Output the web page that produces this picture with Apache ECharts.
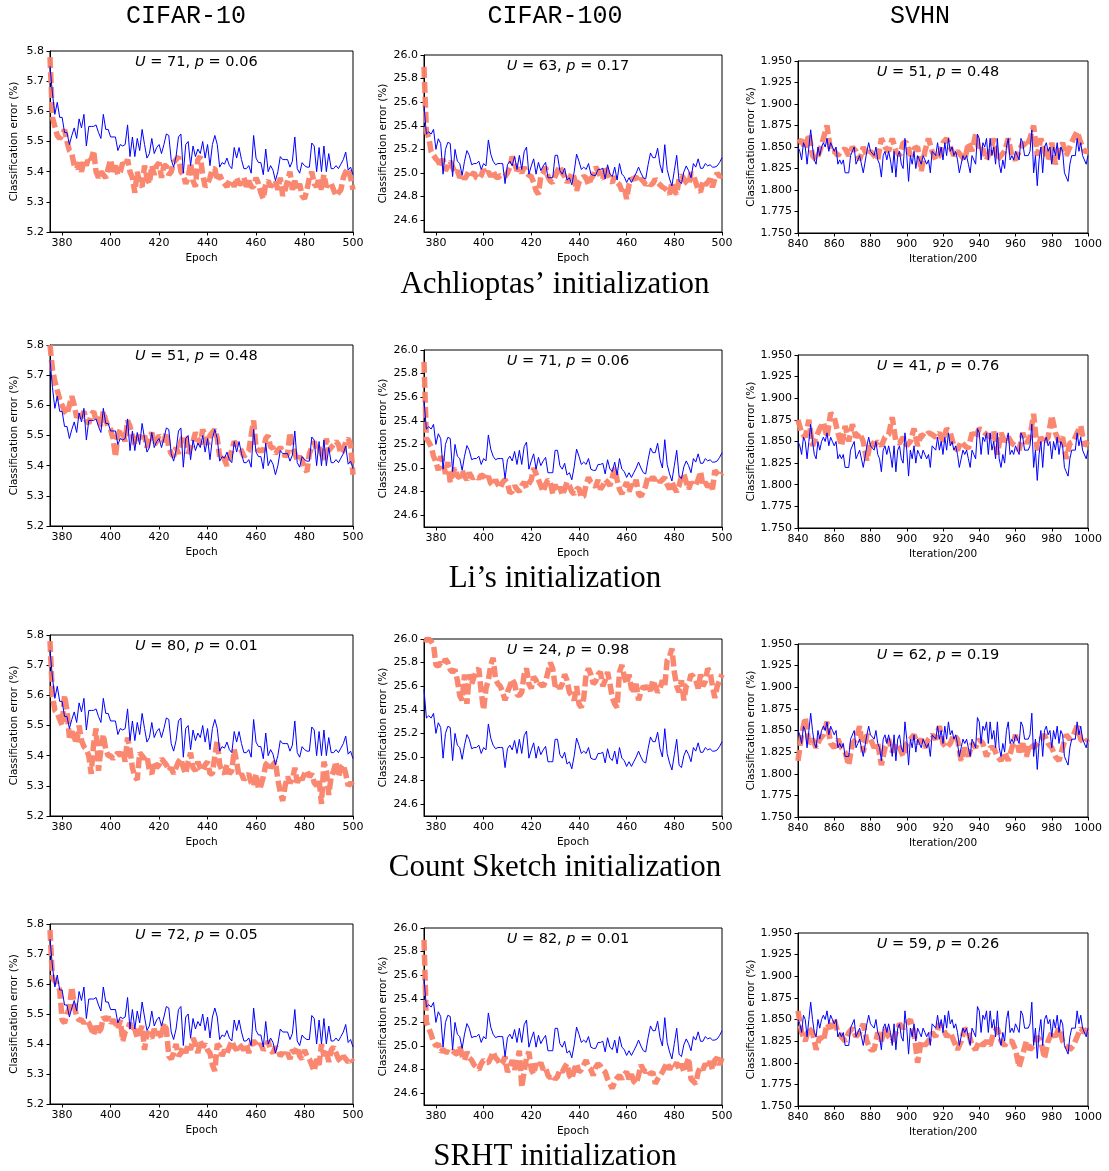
<!DOCTYPE html>
<html>
<head>
<meta charset="utf-8">
<script src="https://cdn.jsdelivr.net/npm/echarts@6/dist/echarts.min.js"></script>
<style>
html,body{margin:0;padding:0;background:#fff;}
#main{width:1109px;height:1171px;}
</style>
</head>
<body>
<div id="main"></div>
<script>
// ---------------- DATA ----------------
const columnTitles = ['CIFAR-10', 'CIFAR-100', 'SVHN'];
const rowTitles = ['Achlioptas\u2019 initialization', 'Li\u2019s initialization', 'Count Sketch initialization', 'SRHT initialization'];
const stats = [
  [['71', '0.06'], ['63', '0.17'], ['51', '0.48']],
  [['51', '0.48'], ['71', '0.06'], ['41', '0.76']],
  [['80', '0.01'], ['24', '0.98'], ['62', '0.19']],
  [['72', '0.05'], ['82', '0.01'], ['59', '0.26']]
];
const epochStart = 375;      // CIFAR series: one value per epoch 375..500
const iterStart = 840;       // SVHN baseline: one value per unit 840..1000, SVHN orange: every 2 units
const cifarXTicks = [380, 400, 420, 440, 460, 480, 500];
const c10YTicks = [5.2, 5.3, 5.4, 5.5, 5.6, 5.7, 5.8];
const c100YTicks = [24.6, 24.8, 25.0, 25.2, 25.4, 25.6, 25.8, 26.0];
const svhnXTicks = [840, 860, 880, 900, 920, 940, 960, 980, 1000];
const svhnYTicks = [1.750, 1.775, 1.800, 1.825, 1.850, 1.875, 1.900, 1.925, 1.950];

// baseline (blue) curves, shared by every row
const c10Base = [
5.75,5.66,5.59,5.63,5.58,5.58,5.53,5.53,5.49,5.52,
5.545,5.51,5.575,5.545,5.59,5.485,5.55,5.55,5.55,5.555,
5.53,5.51,5.59,5.54,5.54,5.515,5.515,5.515,5.47,5.49,
5.485,5.49,5.555,5.45,5.515,5.45,5.51,5.47,5.54,5.49,
5.445,5.46,5.51,5.46,5.48,5.49,5.46,5.49,5.525,5.52,
5.44,5.415,5.45,5.515,5.525,5.395,5.49,5.50,5.42,5.485,
5.45,5.475,5.46,5.50,5.445,5.49,5.42,5.49,5.52,5.49,
5.415,5.43,5.425,5.445,5.42,5.41,5.48,5.445,5.48,5.44,
5.41,5.41,5.42,5.395,5.52,5.445,5.43,5.43,5.39,5.475,
5.40,5.42,5.405,5.37,5.40,5.45,5.44,5.44,5.44,5.415,
5.435,5.515,5.41,5.395,5.43,5.42,5.415,5.415,5.495,5.485,
5.40,5.48,5.40,5.485,5.40,5.46,5.41,5.41,5.42,5.41,
5.425,5.44,5.465,5.405,5.415,5.39];
const c100Base = [
25.57,25.33,25.35,25.33,25.37,25.20,25.29,25.25,24.99,25.20,
25.26,25.25,24.97,25.20,25.10,25.08,24.98,25.10,25.19,25.15,
25.07,25.08,25.08,25.10,25.03,25.08,25.06,25.28,25.16,25.10,
25.07,25.08,25.08,25.08,24.91,25.07,25.10,25.06,25.14,25.03,
25.15,25.03,25.18,25.22,24.99,25.06,25.12,24.99,25.09,25.02,
25.06,25.09,24.96,24.96,24.96,25.15,25.15,25.02,24.99,25.04,
24.94,24.96,24.90,25.01,25.16,25.10,25.03,25.05,25.03,25.08,
24.99,24.98,24.98,25.03,25.03,25.04,24.95,25.07,24.99,24.97,
25.05,24.94,25.08,24.99,24.97,24.92,24.96,24.92,24.96,25.00,
25.05,25.00,24.96,24.95,25.07,25.17,25.13,25.13,25.21,25.07,
25.00,25.24,25.03,24.95,24.89,25.02,25.15,24.93,24.91,25.01,
25.06,25.02,24.96,25.08,25.05,25.12,25.04,25.04,25.08,25.06,
25.07,25.05,25.05,25.06,25.09,25.13];
const svhnBase = [
1.850,1.845,1.835,1.855,1.850,1.830,1.850,1.870,1.850,1.835,
1.830,1.850,1.840,1.850,1.855,1.850,1.860,1.845,1.855,1.850,
1.845,1.850,1.830,1.835,1.830,1.835,1.820,1.820,1.820,1.840,
1.840,1.850,1.830,1.835,1.840,1.840,1.820,1.820,1.845,1.855,
1.845,1.845,1.840,1.850,1.835,1.830,1.815,1.840,1.845,1.835,
1.845,1.835,1.820,1.845,1.815,1.840,1.845,1.830,1.825,1.860,
1.840,1.810,1.840,1.830,1.845,1.825,1.840,1.835,1.830,1.840,
1.835,1.830,1.835,1.820,1.845,1.845,1.840,1.855,1.840,1.850,
1.835,1.855,1.840,1.860,1.845,1.850,1.840,1.845,1.835,1.820,
1.830,1.840,1.835,1.840,1.830,1.820,1.840,1.835,1.830,1.865,
1.860,1.835,1.855,1.850,1.860,1.835,1.860,1.840,1.850,1.830,
1.860,1.830,1.820,1.835,1.825,1.850,1.860,1.835,1.840,1.835,
1.845,1.840,1.835,1.860,1.855,1.840,1.840,1.840,1.845,1.870,
1.820,1.840,1.805,1.835,1.850,1.820,1.850,1.855,1.845,1.850,
1.830,1.850,1.840,1.855,1.835,1.850,1.845,1.820,1.815,1.810,
1.830,1.840,1.840,1.840,1.860,1.845,1.855,1.840,1.840,1.830,
1.840];

// projection-initialised (orange) curves
const c10Achlioptas = [
5.78,5.58,5.55,5.52,5.51,5.52,5.54,5.50,5.47,5.46,
5.42,5.41,5.43,5.40,5.44,5.42,5.45,5.44,5.47,5.40,
5.38,5.40,5.39,5.38,5.41,5.44,5.40,5.42,5.39,5.40,
5.43,5.42,5.44,5.40,5.38,5.33,5.40,5.36,5.35,5.42,
5.38,5.36,5.42,5.39,5.42,5.43,5.38,5.42,5.42,5.39,
5.40,5.43,5.44,5.45,5.40,5.39,5.36,5.38,5.43,5.37,
5.35,5.44,5.45,5.39,5.35,5.36,5.38,5.41,5.41,5.37,
5.39,5.37,5.36,5.35,5.37,5.37,5.35,5.38,5.36,5.36,
5.38,5.35,5.37,5.35,5.35,5.38,5.36,5.33,5.31,5.36,
5.37,5.35,5.36,5.37,5.34,5.38,5.32,5.34,5.37,5.40,
5.34,5.37,5.34,5.36,5.32,5.31,5.34,5.38,5.40,5.36,
5.35,5.38,5.34,5.39,5.35,5.36,5.36,5.34,5.32,5.33,
5.34,5.38,5.40,5.41,5.38,5.34];
const c10Li = [
5.80,5.72,5.68,5.65,5.62,5.60,5.58,5.57,5.60,5.63,
5.60,5.56,5.57,5.56,5.58,5.55,5.54,5.57,5.58,5.55,
5.56,5.53,5.58,5.55,5.53,5.52,5.49,5.43,5.50,5.52,
5.51,5.48,5.55,5.53,5.50,5.47,5.49,5.50,5.48,5.50,
5.46,5.49,5.51,5.47,5.48,5.50,5.49,5.48,5.51,5.46,
5.44,5.43,5.46,5.44,5.48,5.50,5.49,5.44,5.46,5.48,
5.51,5.49,5.47,5.52,5.50,5.47,5.50,5.51,5.52,5.49,
5.43,5.44,5.42,5.40,5.43,5.45,5.48,5.47,5.46,5.45,
5.43,5.44,5.45,5.50,5.55,5.46,5.45,5.45,5.45,5.49,
5.50,5.46,5.46,5.44,5.45,5.46,5.45,5.43,5.44,5.51,
5.46,5.44,5.42,5.43,5.42,5.39,5.38,5.44,5.46,5.48,
5.45,5.46,5.44,5.42,5.49,5.45,5.46,5.47,5.48,5.47,
5.44,5.45,5.48,5.49,5.47,5.37];
const c10CountSketch = [
5.78,5.60,5.55,5.54,5.52,5.50,5.60,5.55,5.46,5.48,
5.46,5.44,5.50,5.45,5.43,5.42,5.40,5.34,5.44,5.49,
5.35,5.42,5.47,5.42,5.40,5.40,5.39,5.40,5.41,5.40,
5.42,5.38,5.46,5.42,5.36,5.33,5.32,5.41,5.40,5.39,
5.40,5.35,5.34,5.38,5.36,5.37,5.39,5.38,5.37,5.35,
5.36,5.34,5.36,5.38,5.39,5.36,5.34,5.38,5.41,5.36,
5.35,5.38,5.36,5.35,5.37,5.38,5.34,5.34,5.40,5.45,
5.37,5.35,5.34,5.37,5.34,5.35,5.42,5.38,5.33,5.34,
5.32,5.33,5.34,5.31,5.30,5.34,5.29,5.30,5.33,5.37,
5.38,5.36,5.37,5.38,5.32,5.28,5.25,5.30,5.33,5.31,
5.32,5.36,5.31,5.33,5.32,5.34,5.35,5.33,5.34,5.31,
5.30,5.32,5.24,5.38,5.35,5.27,5.33,5.35,5.38,5.33,
5.36,5.37,5.34,5.30,5.31,5.30];
const c10SRHT = [
5.78,5.62,5.61,5.60,5.58,5.48,5.47,5.50,5.52,5.59,
5.53,5.49,5.48,5.48,5.47,5.48,5.47,5.45,5.43,5.46,
5.44,5.45,5.49,5.48,5.49,5.47,5.48,5.47,5.45,5.48,
5.41,5.44,5.45,5.47,5.44,5.45,5.42,5.44,5.46,5.38,
5.44,5.43,5.42,5.45,5.43,5.44,5.42,5.47,5.45,5.36,
5.35,5.37,5.40,5.36,5.37,5.39,5.37,5.40,5.38,5.42,
5.40,5.37,5.41,5.39,5.40,5.38,5.37,5.33,5.31,5.40,
5.39,5.36,5.38,5.37,5.39,5.41,5.39,5.38,5.40,5.39,
5.38,5.40,5.37,5.40,5.41,5.40,5.39,5.40,5.38,5.39,
5.41,5.38,5.37,5.39,5.38,5.36,5.37,5.36,5.37,5.35,
5.38,5.37,5.39,5.36,5.35,5.38,5.36,5.35,5.33,5.31,
5.35,5.33,5.40,5.36,5.38,5.34,5.38,5.39,5.37,5.35,
5.34,5.36,5.35,5.34,5.35,5.34];

const c100Achlioptas = [
25.90,25.35,25.30,25.18,25.15,25.12,25.10,25.05,25.12,25.02,
25.06,25.10,25.05,25.00,25.02,24.96,24.99,24.95,24.98,25.02,
24.99,25.00,24.96,24.95,24.98,25.03,24.99,25.01,24.97,25.02,
24.97,24.96,24.98,24.97,24.97,25.00,25.05,25.14,25.08,25.02,
25.04,25.00,25.05,25.00,24.98,24.97,24.92,24.85,24.82,24.97,
25.00,25.05,24.97,24.93,24.92,24.97,25.02,25.06,25.00,24.97,
24.92,24.95,25.00,24.96,24.85,24.92,24.95,24.97,24.96,24.90,
24.95,24.98,25.05,25.02,24.97,24.95,25.06,25.00,24.94,24.92,
24.97,24.92,24.90,24.85,24.88,24.78,24.90,24.95,24.95,24.97,
24.92,24.95,24.93,24.90,24.92,24.90,24.91,24.95,24.92,24.90,
24.88,24.87,24.85,24.82,24.92,24.85,24.82,24.95,24.98,24.95,
24.92,24.90,25.00,24.98,24.92,24.86,24.84,24.93,24.90,24.92,
24.95,24.88,24.95,25.00,24.97,24.98];
const c100Li = [
25.90,25.25,25.22,25.18,25.10,25.05,24.98,25.10,25.05,24.95,
25.05,24.88,24.95,25.00,24.93,24.92,24.98,24.93,24.90,24.96,
24.92,24.92,24.93,24.91,24.94,24.93,24.90,24.93,24.87,24.85,
24.90,24.86,24.83,24.88,24.90,24.87,24.79,24.80,24.85,24.82,
24.80,24.85,24.88,24.83,24.87,24.90,25.00,24.95,24.90,24.85,
24.80,24.86,24.90,24.88,24.78,24.86,24.80,24.84,24.77,24.82,
24.88,24.85,24.80,24.78,24.82,24.83,24.75,24.76,24.86,24.92,
24.88,24.86,24.84,24.90,24.82,24.85,24.90,24.88,24.85,24.92,
25.00,24.90,24.82,24.78,24.83,24.88,24.80,24.86,24.84,24.90,
24.78,24.76,24.80,24.85,24.93,24.90,24.92,24.90,24.92,24.88,
24.90,24.92,24.86,24.82,24.88,24.83,24.80,24.85,24.93,24.95,
24.88,24.82,24.88,24.85,24.86,24.90,24.97,24.85,24.88,24.84,
24.86,24.82,24.98,24.95,24.93,24.96];
const c100CountSketch = [
26.00,25.99,26.00,25.98,25.95,25.78,25.77,25.80,25.78,25.83,
25.80,25.74,25.72,25.74,25.65,25.52,25.48,25.70,25.45,25.70,
25.62,25.68,25.73,25.75,25.55,25.40,25.58,25.65,25.78,25.84,
25.66,25.62,25.60,25.55,25.48,25.55,25.60,25.66,25.62,25.53,
25.52,25.55,25.70,25.75,25.62,25.58,25.68,25.65,25.60,25.62,
25.60,25.64,25.72,25.80,25.75,25.60,25.62,25.58,25.62,25.70,
25.65,25.55,25.52,25.48,25.60,25.45,25.42,25.50,25.70,25.75,
25.70,25.62,25.64,25.70,25.72,25.60,25.65,25.72,25.62,25.50,
25.45,25.42,25.72,25.78,25.68,25.62,25.70,25.58,25.56,25.62,
25.48,25.55,25.60,25.58,25.60,25.56,25.65,25.60,25.55,25.58,
25.65,25.60,25.82,25.85,25.92,25.72,25.60,25.55,25.65,25.48,
25.60,25.62,25.70,25.68,25.65,25.58,25.70,25.60,25.64,25.75,
25.72,25.60,25.50,25.60,25.65,25.70];
const c100SRHT = [
25.90,25.20,25.15,25.10,25.03,25.00,25.02,24.95,24.97,24.95,
24.95,24.94,24.96,24.94,24.93,25.00,24.92,24.88,24.95,24.90,
24.88,24.84,24.82,24.80,24.85,24.88,24.86,24.86,24.90,24.95,
24.90,24.88,24.84,24.86,24.91,24.78,24.82,24.88,24.80,24.86,
24.96,24.65,24.78,24.90,24.95,24.80,24.76,24.85,24.82,24.86,
24.80,24.82,24.75,24.73,24.75,24.72,24.74,24.80,24.78,24.82,
24.85,24.75,24.72,24.80,24.85,24.78,24.80,24.84,24.88,24.82,
24.80,24.75,24.82,24.85,24.83,24.80,24.78,24.72,24.68,24.64,
24.70,24.73,24.75,24.72,24.76,24.78,24.72,24.76,24.70,24.68,
24.75,24.84,24.80,24.78,24.80,24.76,24.78,24.68,24.72,24.75,
24.78,24.82,24.86,24.80,24.84,24.82,24.86,24.80,24.85,24.78,
24.84,24.90,24.72,24.70,24.68,24.78,24.82,24.80,24.85,24.82,
24.87,24.80,24.88,24.90,24.84,24.90];

const svhnAchlioptas = [
1.855,1.858,1.848,1.865,1.840,1.835,1.845,1.860,1.875,1.845,
1.845,1.840,1.845,1.848,1.840,1.850,1.845,1.835,1.850,1.840,
1.845,1.840,1.835,1.860,1.850,1.845,1.860,1.845,1.840,1.855,
1.855,1.840,1.848,1.850,1.822,1.845,1.860,1.845,1.835,1.840,
1.855,1.860,1.850,1.840,1.845,1.840,1.835,1.855,1.845,1.865,
1.845,1.848,1.835,1.845,1.860,1.835,1.840,1.845,1.860,1.840,
1.835,1.845,1.855,1.850,1.860,1.875,1.840,1.860,1.845,1.835,
1.855,1.830,1.845,1.855,1.840,1.850,1.860,1.868,1.855,1.845,
1.845];
const svhnLi = [
1.875,1.860,1.855,1.875,1.845,1.855,1.865,1.872,1.855,1.883,
1.878,1.860,1.845,1.868,1.850,1.870,1.855,1.860,1.850,1.828,
1.850,1.845,1.850,1.845,1.855,1.858,1.878,1.850,1.848,1.855,
1.845,1.850,1.865,1.845,1.858,1.855,1.860,1.858,1.855,1.860,
1.850,1.865,1.860,1.845,1.840,1.850,1.845,1.842,1.860,1.855,
1.865,1.862,1.858,1.855,1.862,1.835,1.860,1.850,1.855,1.848,
1.845,1.840,1.860,1.848,1.855,1.882,1.840,1.855,1.848,1.855,
1.880,1.860,1.850,1.855,1.830,1.848,1.850,1.860,1.868,1.845,
1.850];
const svhnCountSketch = [
1.815,1.845,1.865,1.835,1.840,1.830,1.840,1.845,1.860,1.835,
1.830,1.840,1.830,1.825,1.810,1.835,1.840,1.855,1.825,1.845,
1.840,1.830,1.835,1.810,1.830,1.840,1.825,1.835,1.830,1.820,
1.835,1.840,1.845,1.835,1.840,1.830,1.840,1.845,1.840,1.855,
1.835,1.830,1.835,1.845,1.840,1.815,1.830,1.820,1.835,1.830,
1.840,1.835,1.820,1.830,1.830,1.820,1.815,1.825,1.815,1.830,
1.845,1.825,1.835,1.820,1.835,1.830,1.835,1.840,1.845,1.835,
1.830,1.820,1.815,1.830,1.845,1.840,1.845,1.855,1.840,1.835,
1.840];
const svhnSRHT = [
1.860,1.835,1.825,1.840,1.835,1.815,1.830,1.825,1.845,1.840,
1.850,1.835,1.830,1.825,1.835,1.840,1.830,1.835,1.845,1.825,
1.815,1.815,1.835,1.825,1.840,1.830,1.825,1.835,1.845,1.840,
1.845,1.850,1.835,1.800,1.825,1.820,1.825,1.835,1.830,1.845,
1.840,1.830,1.835,1.825,1.815,1.825,1.840,1.835,1.820,1.815,
1.825,1.820,1.825,1.820,1.835,1.840,1.825,1.820,1.825,1.825,
1.815,1.795,1.810,1.825,1.815,1.820,1.830,1.825,1.805,1.825,
1.835,1.830,1.840,1.825,1.820,1.815,1.820,1.830,1.840,1.835,
1.840];

const orangeByRow = [
  [c10Achlioptas, c100Achlioptas, svhnAchlioptas],
  [c10Li, c100Li, svhnLi],
  [c10CountSketch, c100CountSketch, svhnCountSketch],
  [c10SRHT, c100SRHT, svhnSRHT]
];
const baseByCol = [c10Base, c100Base, svhnBase];

// ---------------- LAYOUT ----------------
const colLeft = [50, 424, 798];
const colWidth = [303, 298, 290];
const colTop = [[51, 345, 635, 924], [55, 350, 639, 928], [61, 355, 644, 933]];
const colBottom = [[232, 526, 816, 1104], [232, 527, 816, 1105], [233, 528, 817, 1106]];
const yNameGap = [30, 35, 40];
const colTitleX = [186, 555, 920];
const rowTitleY = [285, 579, 868, 1157];

const colAxis = [
  {xmin: 375, xmax: 500, xticks: cifarXTicks, ymin: 5.2, ymax: 5.8, yticks: c10YTicks, dec: 1, xname: 'Epoch', x0: epochStart, bstep: 1, ostep: 1},
  {xmin: 375, xmax: 500, xticks: cifarXTicks, ymin: 24.5, ymax: 26.0, yticks: c100YTicks, dec: 1, xname: 'Epoch', x0: epochStart, bstep: 1, ostep: 1},
  {xmin: 840, xmax: 1000, xticks: svhnXTicks, ymin: 1.75, ymax: 1.95, yticks: svhnYTicks, dec: 3, xname: 'Iteration/200', x0: iterStart, bstep: 1, ostep: 2}
];

const FONT = 'DejaVu Sans';
const grids = [], xAxes = [], yAxes = [], series = [], graphics = [];
let gi = 0;
for (let r = 0; r < 4; r++) {
  for (let c = 0; c < 3; c++) {
    const ax = colAxis[c];
    const top = colTop[c][r], bottom = colBottom[c][r];
    grids.push({left: colLeft[c], top: top, width: colWidth[c], height: bottom - top,
      show: true, borderColor: '#000', borderWidth: 1, backgroundColor: 'transparent'});
    xAxes.push({type: 'value', gridIndex: gi, min: ax.xmin, max: ax.xmax,
      name: ax.xname, nameLocation: 'middle', nameGap: 21,
      nameTextStyle: {fontFamily: FONT, fontSize: 10.5, color: '#000'},
      axisLine: {show: true, lineStyle: {color: '#000', width: 1}},
      axisTick: {show: true, length: 3.5, lineStyle: {color: '#000'}, customValues: ax.xticks},
      axisLabel: {fontFamily: FONT, fontSize: 11, color: '#000', margin: 6, customValues: ax.xticks,
        formatter: v => String(Math.round(v))},
      splitLine: {show: false}});
    yAxes.push({type: 'value', gridIndex: gi, min: ax.ymin, max: ax.ymax,
      name: 'Classification error (%)', nameLocation: 'middle', nameGap: yNameGap[c], nameRotate: 90,
      nameTextStyle: {fontFamily: FONT, fontSize: 10.5, color: '#000'},
      axisLine: {show: true, lineStyle: {color: '#000', width: 1}},
      axisTick: {show: true, length: 3.5, lineStyle: {color: '#000'}, customValues: ax.yticks},
      axisLabel: {fontFamily: FONT, fontSize: 11, color: '#000', margin: 6, customValues: ax.yticks,
        formatter: v => Number(v).toFixed(ax.dec)},
      splitLine: {show: false}});
    const orange = orangeByRow[r][c];
    const base = baseByCol[c];
    series.push({type: 'line', xAxisIndex: gi, yAxisIndex: gi, symbol: 'none', silent: true,
      data: orange.map((v, i) => [ax.x0 + i * ax.ostep, v]),
      lineStyle: {color: '#FA8268', width: 5.5, type: [11, 4], opacity: 0.95}, z: 2});
    series.push({type: 'line', xAxisIndex: gi, yAxisIndex: gi, symbol: 'none', silent: true,
      data: base.map((v, i) => [ax.x0 + i * ax.bstep, v]),
      lineStyle: {color: '#0000FF', width: 1}, z: 3});
    const st = stats[r][c];
    graphics.push({type: 'text', x: colLeft[c] + 0.483 * colWidth[c], y: top + 11, z: 10,
      style: {text: '{i|U} = ' + st[0] + ', {i|p} = ' + st[1], textAlign: 'center', textVerticalAlign: 'middle',
        fontFamily: FONT, fontSize: 14.5, fill: '#000',
        rich: {i: {fontFamily: FONT, fontSize: 14.5, fontStyle: 'italic', fill: '#000'}}}});
    gi++;
  }
}
columnTitles.forEach((t, c) => graphics.push({type: 'text', x: colTitleX[c], y: 16,
  style: {text: t, textAlign: 'center', textVerticalAlign: 'middle', fontFamily: 'Liberation Mono', fontSize: 25, fill: '#000'}}));
rowTitles.forEach((t, r) => graphics.push({type: 'text', x: 555, y: rowTitleY[r],
  style: {text: t, textAlign: 'center', textVerticalAlign: 'middle', fontFamily: 'Liberation Serif', fontSize: 31, fill: '#000'}}));

const chart = echarts.init(document.getElementById('main'), null, {renderer: 'canvas'});
chart.setOption({animation: false, backgroundColor: '#fff', grid: grids, xAxis: xAxes, yAxis: yAxes, series: series, graphic: graphics});
</script>
</body>
</html>
